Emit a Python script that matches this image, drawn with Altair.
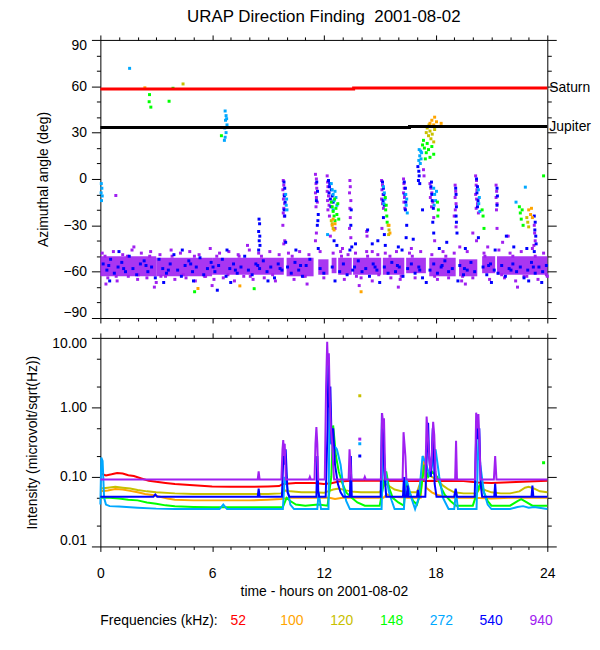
import altair as alt
import pandas as pd

TITLE = "URAP Direction Finding\u00a0 2001-08-02"
FREQS = ["52", "100", "120", "148", "272", "540", "940"]
COLORS = ["#FF0000", "#FFA500", "#C8C000", "#00FF00", "#00A8FF", "#0000FF", "#A020F0"]
LEGEND_TITLE = "Frequencies (kHz):"
X_TITLE = "time - hours on 2001-08-02"
Y_TOP_TITLE = "Azimuthal angle (deg)"
Y_BOT_TITLE = "Intensity (microvolt/sqrt(Hz))"
X_TICKS = list(range(0, 25))
Y_TOP_TICKS = list(range(-90, 91, 10))
Y_BOT_TICKS = [0.01, 0.02, 0.05, 0.1, 0.2, 0.5, 1, 2, 5, 10]

# ---------------- top panel: dense band core (segments between gaps)
BAND_T0 = [0.0, 3.0, 6.0, 10.0, 11.7, 12.42, 12.77, 13.57, 15.17, 16.42, 17.66, 19.26, 20.5, 21.3]
BAND_T1 = [3.0, 6.0, 9.85, 11.45, 12.25, 12.68, 13.5, 15.08, 16.32, 17.48, 19.08, 20.24, 21.2, 24.0]
BAND_LO = [-63, -63, -62, -63, -62, -61, -62, -62, -62, -61, -63, -63, -61, -62]
BAND_HI = [-50, -51, -51, -51, -52, -51, -51, -51, -51, -51, -51, -52, -50, -50]

PURPLE_SPECK = [(0.1,-48),(0.4,-64),(0.7,-47),(0.9,-66),(1.2,-49),(1.5,-63),(1.7,-46),(2.0,-65),(2.2,-48),(2.5,-64),
    (2.7,-47),(3.0,-67),(3.2,-49),(3.5,-63),(3.8,-46),(4.0,-65),(4.3,-48),(4.6,-64),(4.8,-47),(5.1,-66),(5.3,-49),
    (5.6,-63),(5.9,-45),(6.1,-65),(6.4,-48),(6.6,-64),(6.9,-47),(7.2,-66),(7.4,-49),(7.7,-63),(8.0,-46),(8.2,-65),
    (8.5,-48),(8.8,-64),(9.1,-47),(9.4,-66),(9.6,-49),(10.1,-48),(10.4,-65),(10.7,-47),(11.0,-63),(11.2,-49),(11.8,-47),
    (12.0,-64),(12.5,-48),(12.9,-47),(13.1,-65),(13.3,-49),(13.7,-48),(14.0,-64),(14.3,-47),(14.6,-66),(14.9,-49),
    (15.3,-48),(15.6,-64),(15.9,-47),(16.1,-65),(16.6,-48),(16.9,-64),(17.2,-47),(17.8,-49),(18.1,-65),(18.4,-47),
    (18.7,-64),(19.0,-48),(19.4,-66),(19.7,-47),(20.0,-64),(20.6,-48),(20.9,-65),(21.4,-46),(21.7,-64),(22.0,-48),
    (22.3,-66),(22.6,-47),(22.9,-63),(23.2,-45),(23.5,-65),(23.8,-48),(24.0,-63),(0.3,-68),(2.9,-70),(6.0,-69),
    (11.1,-68),(13.9,-69),(16.0,-70),(19.6,-68),(22.4,-70),(1.8,-44),(7.9,-43),(13.0,-45),(20.8,-44),
    (0.25,-50),(0.85,-63),(1.45,-50),(2.05,-62),(2.65,-50),(3.25,-63),(3.85,-50),(4.45,-62),(5.05,-50),(5.65,-63),
    (6.25,-50),(6.85,-62),(7.45,-50),(8.05,-63),(8.65,-50),(9.25,-62),(10.3,-50),(10.9,-63),(12.95,-50),(13.75,-63),
    (14.35,-50),(14.95,-62),(15.55,-50),(16.15,-63),(16.75,-50),(17.95,-63),(18.55,-50),(19.45,-63),(20.65,-50),
    (21.55,-62),(22.15,-50),(22.75,-63),(23.35,-50),(23.95,-62)]
PURPLE_BURST = [(9.82,-1),(9.85,-4),(9.8,-7),(9.87,-10),(9.83,-13),(9.9,-16),(9.85,-19),(9.82,-22),(9.88,-24),(9.8,-30),
    (9.9,-40),(9.85,-42),(11.55,3),(11.6,0),(11.58,-3),(11.62,-6),(11.55,-9),(11.6,-12),(11.65,-15),(11.58,-18),
    (11.6,-35),(11.55,-40),(12.18,2),(12.2,-2),(12.22,-5),(12.18,-8),(12.25,-11),(12.2,-14),(12.28,-17),(12.22,-20),
    (12.3,-24),(12.35,-37),(12.6,-32),(13.4,-1),(13.42,-5),(13.38,-9),(13.45,-14),(13.4,-19),(13.42,-25),(13.38,-32),
    (13.45,-38),(14.3,-34),(14.32,-37),(15.1,-1),(15.15,-4),(15.12,-7),(15.18,-10),(15.1,-13),(15.15,-16),(15.2,-19),
    (15.12,-32),(16.28,0),(16.3,-3),(16.32,-6),(16.28,-9),(16.33,-12),(16.3,-15),(16.35,-19),(17.35,6),(17.38,2),
    (17.7,-3),(17.75,-6),(17.8,-9),(17.72,-12),(17.85,-15),(17.78,-18),(17.9,-25),(17.95,-40),(19.05,-4),(19.08,-8),
    (19.05,-12),(19.1,-16),(19.06,-20),(19.0,-24),(19.1,-31),(20.15,2),(20.2,-1),(20.18,-4),(20.22,-7),(20.15,-10),
    (20.2,-13),(20.25,-16),(20.18,-19),(20.3,-22),(20.2,-40),(21.25,-4),(21.28,-8),(21.25,-12),(21.3,-16),(21.27,-20),
    (21.3,-32),(23.3,-30),(23.32,-35),(23.35,-40),(23.28,-43),(0.83,-10.7),(14.6,-47),(16.7,-45),(19.3,-44),
    (21.6,-41),(20.0,-35),(21.9,-37)]
BLUE_SPECK = [(0.15,-55),(0.35,-59),(0.55,-52),(0.75,-61),(0.95,-57),(1.15,-54),(1.35,-60),(1.55,-50),(1.75,-58),
    (1.95,-62),(2.15,-55),(2.35,-53),(2.55,-60),(2.75,-57),(2.95,-64),(3.15,-52),(3.35,-58),(3.55,-61),(3.75,-55),
    (3.95,-49),(4.15,-59),(4.35,-63),(4.55,-56),(4.75,-53),(4.95,-60),(5.15,-57),(5.35,-51),(5.55,-62),(5.75,-58),
    (5.95,-54),(6.15,-60),(6.35,-56),(6.55,-52),(6.75,-63),(6.95,-58),(7.15,-55),(7.35,-61),(7.55,-57),(7.75,-50),
    (7.95,-59),(8.15,-62),(8.35,-55),(8.55,-58),(8.75,-53),(8.95,-60),(9.15,-57),(9.35,-64),(9.55,-55),(9.75,-59),
    (10.05,-57),(10.25,-61),(10.45,-54),(10.65,-59),(10.85,-63),(11.05,-56),(11.25,-52),(11.8,-58),(12.0,-61),
    (12.45,-57),(12.85,-60),(13.05,-55),(13.25,-62),(13.65,-57),(13.85,-53),(14.05,-60),(14.25,-58),(14.45,-63),
    (14.65,-55),(14.85,-59),(15.25,-57),(15.45,-61),(15.65,-54),(15.85,-60),(16.05,-57),(16.25,-63),(16.5,-58),
    (16.7,-55),(16.9,-61),(17.1,-57),(17.3,-64),(17.7,-59),(17.9,-55),(18.1,-61),(18.3,-57),(18.5,-53),(18.7,-60),
    (18.9,-58),(19.3,-56),(19.5,-62),(19.7,-59),(19.9,-54),(20.1,-60),(20.55,-57),(20.75,-62),(20.95,-55),(21.15,-59),
    (21.35,-61),(21.55,-56),(21.75,-63),(21.95,-58),(22.15,-55),(22.35,-60),(22.55,-57),(22.75,-64),(22.95,-59),
    (23.15,-54),(23.35,-61),(23.55,-57),(23.75,-60),(23.95,-56),(0.5,-66),(3.4,-67),(5.0,-66),(7.0,-67),(9.0,-66),
    (12.6,-66),(15.0,-67),(17.5,-67),(19.2,-66),(21.0,-67),(23.0,-66),(23.7,-67),(1.0,-47),(4.4,-46),(6.8,-46),
    (10.5,-46),(13.4,-46),(16.2,-46),(18.2,-45),(21.2,-46),(22.2,-44),(23.3,-47),
    (0.45,-56),(1.25,-58),(2.45,-56),(3.65,-59),(4.85,-55),(6.05,-57),(7.25,-59),(8.45,-56),(9.65,-58),(10.75,-56),
    (13.55,-59),(14.75,-57),(15.95,-56),(17.15,-59),(18.35,-56),(19.55,-58),(20.85,-56),(22.05,-59),(23.25,-57)]
BLUE_BURST = [(8.52,-26),(8.55,-29),(8.5,-34),(8.56,-37),(8.53,-40),(8.57,-43),(8.5,-46),(9.86,-2),(9.9,-6),(9.88,-11),
    (9.92,-15),(9.87,-20),(9.9,-24),(9.95,-41),(11.62,-2),(11.66,-8),(11.6,-14),(11.7,-23),(11.68,-27),(11.65,-30),
    (11.7,-45),(12.25,-1),(12.3,-5),(12.28,-9),(12.35,-13),(12.32,-3),(12.4,-7),(12.45,-11),(12.5,-15),(12.38,-18),
    (12.55,-40),(12.7,-43),(13.47,-20),(13.45,-30),(13.5,-44),(14.35,-33),(14.6,-42),(15.15,-2),(15.2,-6),(15.22,-10),
    (15.18,-14),(15.25,-17),(15.2,-25),(15.25,-36),(15.3,-43),(16.32,-2),(16.38,-6),(16.35,-10),(16.4,-15),(16.38,-20),
    (16.45,-30),(16.42,-38),(17.05,8),(17.1,5),(17.12,2),(17.08,-1),(17.15,-3),(17.3,-20),(17.78,-2),(17.75,-5),
    (17.8,-10),(17.82,-14),(17.88,-19),(17.85,-28),(17.9,-35),(19.08,-6),(19.1,-10),(19.12,-18),(19.1,-24),(19.12,-28),
    (19.15,-35),(20.2,0),(20.25,-5),(20.22,-9),(20.28,-14),(20.25,-18),(20.3,-38),(21.3,-6),(21.32,-11),(21.3,-17),
    (23.3,-24),(23.35,-28),(23.33,-33),(23.38,-37),(23.4,-42),(6.28,-72),(13.7,-42),(14.9,-40),(16.0,-44),(16.8,-39),
    (18.6,-41),(19.6,-45),(21.8,-37),(22.9,-45)]
CYAN_PTS = [(0.05,-3),(0.08,-6),(0.04,-9),(0.1,-11),(0.06,-14),(1.57,71.6),(6.7,44),(6.75,41),(6.78,39),(6.72,38),
    (6.8,35),(6.68,33),(6.75,30),(6.7,27),(6.66,25),(9.95,-10),(10.0,-13),(9.98,-17),(10.02,-20),(12.4,-3),(12.45,-7),
    (12.5,-10),(12.55,-14),(12.6,-8),(12.65,-12),(12.7,-17),(12.5,-20),(12.2,-36),(15.2,-5),(15.25,-9),(15.28,-13),
    (15.22,-16),(16.4,-10),(16.45,-13),(16.42,-17),(16.48,-22),(17.1,12),(17.15,15),(17.18,10),(17.2,18),(17.22,13),
    (17.25,17),(17.12,19),(17.9,-6),(17.95,-10),(18.0,-14),(17.92,-17),(18.05,-8),(20.3,-7),(20.35,-12),(20.32,-16),
    (20.38,-21),(22.82,-5.3),(22.32,-15)]
GREEN_PTS = [(2.64,54.6),(2.62,50),(2.71,46.5),(3.9,58.7),(3.69,50.3),(6.5,28),(5.06,-73),(8.26,-71),(12.4,-15),
    (12.45,-18),(12.5,-21),(12.55,-24),(12.6,-27),(12.65,-19),(12.7,-23),(12.75,-16),(12.8,-26),(12.58,-13),(15.3,-12),
    (15.35,-17),(15.32,-20),(15.38,-24),(15.4,-28),(17.3,22),(17.35,25),(17.4,20),(17.5,17),(17.55,23),(17.62,19),
    (17.7,14),(17.45,13),(17.8,21),(17.9,16),(18.1,-15),(18.15,-20),(18.12,-24),(20.5,-20),(20.55,-24),(20.6,-32),
    (22.5,-18),(22.55,-22),(22.6,-26),(22.65,-20),(22.7,-30),(23.8,2)]
YELLOW_PTS = [(4.44,61.5),(12.45,-29),(12.5,-32),(12.4,-27),(15.45,-30),(15.5,-33),(15.48,-36),(17.5,30),(17.55,33),
    (17.62,28),(17.7,31),(17.75,26),(17.82,29),(17.9,24),(17.65,35),(17.95,32),(22.95,-28),(23.0,-31),(22.9,-25)]
ORANGE_PTS = [(2.39,59),(5.24,-70.9),(7.49,-69.2),(14.0,-73),(12.5,-26),(12.45,-30),(12.55,-33),(12.6,-29),(15.5,-30),
    (15.55,-35),(17.7,36),(17.8,38),(17.9,35),(17.95,40),(18.05,37),(18.2,34),(18.3,36),(23.0,-20),(23.1,-23),
    (23.15,-19),(23.2,-25)]

PLANETS = ["Saturn", "Jupiter"]
PLANET_COLORS = ["#FF0000", "#000000"]
SATURN_T = [0.0, 13.6, 24.0]
SATURN_A = [58.2, 58.9, 58.9]
JUPITER_T = [0.0, 16.6, 24.0]
JUPITER_A = [33.3, 33.9, 33.9]

# ---------------- bottom panel: intensity per frequency (t hours, value)
RED_LINE = [(0.0,0.112),(0.3,0.105),(0.6,0.109),(0.9,0.114),(1.2,0.112),(1.5,0.106),(1.8,0.103),(2.2,0.095),(2.6,0.088),
    (3.0,0.085),(3.5,0.082),(4.0,0.079),(5.0,0.076),(6.0,0.073),(7.0,0.072),(8.0,0.072),(9.0,0.073),(9.6,0.074),
    (9.8,0.079),(10.5,0.082),(11.5,0.082),(12.0,0.079),(12.4,0.081),(12.8,0.086),(13.5,0.088),(15.0,0.088),
    (16.5,0.087),(18.0,0.088),(19.5,0.087),(20.3,0.083),(21.0,0.082),(22.0,0.084),(23.0,0.086),(24.0,0.088)]
ORANGE_LINE = [(0.0,0.062),(0.4,0.064),(0.8,0.067),(1.2,0.066),(1.6,0.063),(2.0,0.06),(2.4,0.057),(2.8,0.055),
    (3.2,0.052),(3.6,0.049),(4.0,0.047),(5.0,0.046),(6.0,0.046),(7.0,0.046),(8.0,0.046),(9.0,0.047),(9.7,0.048),
    (10.2,0.05),(11.0,0.05),(12.0,0.05),(12.3,0.05),(12.6,0.048),(13.0,0.05),(14.0,0.05),(15.2,0.05),(15.4,0.056),
    (15.7,0.052),(16.5,0.05),(17.2,0.05),(17.35,0.2),(17.5,0.07),(17.8,0.06),(18.1,0.055),(18.5,0.052),(19.0,0.05),
    (20.0,0.05),(21.0,0.049),(22.0,0.05),(23.0,0.05),(24.0,0.05)]
YELLOW_LINE = [(0.0,0.068),(0.4,0.07),(0.8,0.072),(1.2,0.07),(1.6,0.068),(2.0,0.065),(2.5,0.062),(3.0,0.06),(4.0,0.058),
    (5.0,0.057),(6.0,0.057),(7.0,0.057),(8.0,0.057),(9.0,0.057),(9.7,0.058),(9.9,0.064),(10.2,0.062),(10.8,0.06),
    (11.5,0.06),(12.0,0.059),(12.5,0.066),(12.8,0.068),(13.2,0.064),(13.6,0.061),(14.0,0.06),(15.0,0.06),(15.3,0.08),
    (15.5,0.074),(15.8,0.066),(16.2,0.062),(16.6,0.06),(17.0,0.06),(17.4,0.12),(17.8,0.1),(18.1,0.09),(18.4,0.075),
    (18.7,0.066),(19.0,0.06),(19.5,0.058),(20.2,0.058),(20.4,0.07),(20.7,0.064),(21.0,0.06),(21.5,0.058),(22.0,0.058),
    (22.5,0.062),(22.8,0.07),(23.0,0.072),(23.3,0.068),(23.6,0.062),(24.0,0.06)]
GREEN_LINE = [(0.0,0.05),(0.5,0.05),(1.0,0.049),(1.5,0.047),(2.0,0.046),(2.5,0.043),(3.0,0.041),(3.5,0.039),(4.0,0.038),
    (5.0,0.037),(6.0,0.0365),(7.0,0.0365),(8.0,0.0365),(9.0,0.0365),(9.8,0.037),(10.0,0.05),(10.2,0.045),(10.5,0.04),
    (11.0,0.0385),(11.7,0.04),(12.2,0.0385),(12.4,0.1),(12.5,0.55),(12.65,0.2),(12.8,0.12),(13.0,0.08),(13.2,0.06),
    (13.5,0.05),(13.8,0.043),(14.2,0.0386),(15.0,0.0386),(15.25,0.09),(15.35,0.12),(15.5,0.07),(15.7,0.05),
    (16.0,0.043),(16.3,0.0386),(16.4,0.085),(16.6,0.06),(16.8,0.045),(17.0,0.04),(17.2,0.06),(17.4,0.15),(17.6,0.1),
    (17.8,0.12),(18.1,0.1),(18.3,0.07),(18.5,0.055),(18.8,0.045),(19.1,0.0386),(20.0,0.0386),(20.35,0.075),
    (20.45,0.08),(20.6,0.06),(20.8,0.045),(21.0,0.0386),(22.0,0.0386),(22.4,0.045),(22.6,0.048),(22.9,0.043),
    (23.2,0.0386),(24.0,0.0386)]
CYAN_LINE = [(0.0,0.04),(0.05,0.19),(0.12,0.17),(0.2,0.05),(0.3,0.04),(0.5,0.038),(1.0,0.0375),(2.0,0.036),(3.0,0.035),
    (4.0,0.0345),(6.4,0.0345),(6.6,0.04),(6.8,0.0345),(7.5,0.0345),(9.0,0.0345),(9.8,0.0345),(9.9,0.1),(10.0,0.08),
    (10.2,0.04),(10.4,0.0345),(11.0,0.0345),(11.65,0.0345),(11.72,0.06),(11.85,0.0345),(12.1,0.0345),(12.25,0.0345),
    (12.32,1.6),(12.4,0.3),(12.55,0.28),(12.7,0.25),(12.9,0.15),(13.05,0.07),(13.2,0.045),(13.4,0.0345),(14.0,0.0345),
    (15.1,0.0345),(15.2,0.3),(15.3,0.12),(15.5,0.06),(15.65,0.045),(15.8,0.0345),(16.3,0.0345),(16.4,0.1),(16.5,0.08),
    (16.7,0.05),(16.9,0.0345),(17.1,0.05),(17.3,0.2),(17.5,0.15),(17.7,0.1),(17.9,0.2),(18.0,0.25),(18.2,0.1),
    (18.4,0.05),(18.7,0.0345),(19.0,0.0345),(19.1,0.06),(19.2,0.0345),(20.2,0.0345),(20.3,0.35),(20.4,0.15),
    (20.6,0.06),(20.8,0.04),(21.0,0.0345),(22.0,0.0345),(22.4,0.037),(22.7,0.038),(23.0,0.036),(23.3,0.037),
    (24.0,0.0345)]
BLUE_LINE = [(0.0,0.052),(2.85,0.052),(2.95,0.056),(3.05,0.052),(8.45,0.052),(8.5,0.068),(8.55,0.052),(9.75,0.052),
    (9.85,0.3),(9.9,0.15),(9.95,0.25),(10.05,0.06),(10.15,0.052),(11.6,0.052),(11.65,0.2),(11.7,0.062),(11.75,0.052),
    (12.1,0.052),(12.2,0.5),(12.25,5.2),(12.3,1.0),(12.35,2.0),(12.42,0.3),(12.5,0.5),(12.6,0.15),(12.75,0.08),
    (12.9,0.06),(13.05,0.052),(13.4,0.052),(13.45,0.2),(13.5,0.052),(15.05,0.052),(15.12,0.83),(15.18,0.4),
    (15.25,0.12),(15.35,0.052),(16.25,0.052),(16.3,0.1),(16.35,0.052),(16.45,0.052),(16.5,0.075),(16.55,0.052),
    (17.0,0.052),(17.05,0.065),(17.1,0.052),(17.45,0.052),(17.55,0.3),(17.6,0.6),(17.65,0.2),(17.75,0.1),(17.85,0.5),
    (17.9,0.3),(17.95,0.08),(18.05,0.052),(19.0,0.052),(19.08,0.068),(19.15,0.052),(20.1,0.052),(20.2,0.63),
    (20.28,0.35),(20.35,0.5),(20.42,0.08),(20.5,0.052),(21.15,0.052),(21.2,0.08),(21.25,0.052),(23.15,0.052),
    (23.2,0.075),(23.25,0.052),(24.0,0.052)]
PURPLE_LINE = [(0.0,0.092),(8.45,0.092),(8.5,0.12),(8.55,0.092),(9.72,0.092),(9.78,0.25),(9.82,0.34),(9.86,0.2),
    (9.9,0.3),(9.96,0.092),(11.2,0.092),(11.25,0.1),(11.3,0.092),(11.5,0.092),(11.55,0.3),(11.6,0.52),(11.65,0.3),
    (11.7,0.092),(12.05,0.092),(12.12,2.0),(12.18,8.8),(12.22,4.0),(12.27,6.0),(12.32,1.2),(12.38,0.5),(12.45,0.3),
    (12.5,0.15),(12.55,0.092),(13.33,0.092),(13.38,0.25),(13.43,0.15),(13.48,0.092),(14.15,0.092),(14.2,0.1),
    (14.25,0.092),(15.08,0.092),(15.13,0.83),(15.18,0.5),(15.23,0.7),(15.3,0.092),(16.23,0.092),(16.28,0.44),
    (16.33,0.3),(16.38,0.2),(16.43,0.092),(17.45,0.092),(17.52,0.74),(17.58,0.4),(17.65,0.2),(17.72,0.12),(17.8,0.2),
    (17.87,0.62),(17.93,0.4),(18.0,0.12),(18.05,0.092),(19.05,0.092),(19.1,0.33),(19.15,0.092),(20.12,0.092),
    (20.18,0.84),(20.24,0.5),(20.3,0.8),(20.36,0.3),(20.42,0.092),(21.13,0.092),(21.2,0.2),(21.27,0.092),(24.0,0.092)]
# isolated samples in the bottom panel
BOTTOM_PTS = [("120",13.93,1.47),("940",13.93,0.35),("272",13.93,0.3),("540",13.93,0.2),("148",23.8,0.16)]

FONT = "Liberation Sans"

# ---------------- data frames
band_df = pd.DataFrame({"t0": BAND_T0, "t1": BAND_T1, "lo": BAND_LO, "hi": BAND_HI})
top_rows = []
for f, pts in [("940", PURPLE_SPECK + PURPLE_BURST), ("540", BLUE_SPECK + BLUE_BURST), ("272", CYAN_PTS),
               ("148", GREEN_PTS), ("120", YELLOW_PTS), ("100", ORANGE_PTS)]:
    top_rows += [{"f": f, "t": t, "a": a} for t, a in pts]
top_df = pd.DataFrame(top_rows)
planet_df = pd.DataFrame(
    [{"name": "Saturn", "t": t, "a": a} for t, a in zip(SATURN_T, SATURN_A)]
    + [{"name": "Jupiter", "t": t, "a": a} for t, a in zip(JUPITER_T, JUPITER_A)])
planet_lab_df = pd.DataFrame({"name": PLANETS, "t": [SATURN_T[-1], JUPITER_T[-1]], "a": [SATURN_A[-1], JUPITER_A[-1]]})

line_rows = []
for f, series in zip(FREQS, [RED_LINE, ORANGE_LINE, YELLOW_LINE, GREEN_LINE, CYAN_LINE, BLUE_LINE, PURPLE_LINE]):
    line_rows += [{"f": f, "t": t, "v": v} for t, v in series]
line_df = pd.DataFrame(line_rows)
bpts_df = pd.DataFrame([{"f": f, "t": t, "v": v} for f, t, v in BOTTOM_PTS])
legend_df = pd.DataFrame({"lab": FREQS})
legend_title_df = pd.DataFrame({"txt": [LEGEND_TITLE]})

# ---------------- scales and axes
xs = alt.Scale(domain=[0, 24], nice=False, zero=False)
ys_top = alt.Scale(domain=[-90, 90], nice=False, zero=False)
ys_bot = alt.Scale(type="log", domain=[0.01, 10], nice=False)
cscale = alt.Scale(domain=FREQS, range=COLORS)

AX = dict(domain=True, domainColor="black", domainWidth=1, tickColor="black", tickWidth=1,
          grid=False, labelOverlap=False)
MAJ_X = "datum.value % 6 === 0"
MAJ_YT = "datum.value % 30 === 0"
MAJ_YB = "abs(log(datum.value) / LN10 - round(log(datum.value) / LN10)) < 0.01"


def x_axis(orient, labels=False, title=None):
    kw = dict(orient=orient, values=X_TICKS, labels=labels, title=title, labelFlush=False,
              tickSize={"condition": {"test": MAJ_X, "value": 5}, "value": 3}, **AX)
    if labels:
        kw.update(labelExpr=f"{MAJ_X} ? datum.label : ''", labelPadding=15, titlePadding=4)
    return alt.Axis(**kw)


def y_axis(orient, ticks, major, size_major, labels=False, title=None, expr=None):
    kw = dict(orient=orient, values=ticks, labels=labels, title=title,
              tickSize={"condition": {"test": major, "value": size_major}, "value": 4}, **AX)
    if labels:
        kw.update(labelExpr=expr, labelFlush=True, labelFlushOffset=1, labelPadding=5, titlePadding=12)
    return alt.Axis(**kw)


# ---------------- top panel
band = alt.Chart(band_df).mark_rect(color=COLORS[6], opacity=0.9).encode(
    x=alt.X("t0:Q", scale=xs, axis=x_axis("bottom")),
    x2="t1:Q",
    y=alt.Y("lo:Q", scale=ys_top, axis=y_axis("left", Y_TOP_TICKS, MAJ_YT, 9, True, Y_TOP_TITLE,
                                               f"{MAJ_YT} ? datum.label : ''")),
    y2="hi:Q",
)
pts = alt.Chart(top_df).mark_square(size=9, opacity=1).encode(
    x=alt.X("t:Q", scale=xs, axis=x_axis("top")),
    y=alt.Y("a:Q", scale=ys_top, axis=y_axis("right", Y_TOP_TICKS, MAJ_YT, 9)),
    color=alt.Color("f:N", scale=cscale, legend=None),
)
planets = alt.Chart(planet_df).mark_line(strokeWidth=3, interpolate="step-after").encode(
    x=alt.X("t:Q", scale=xs, axis=None),
    y=alt.Y("a:Q", scale=ys_top, axis=None),
    color=alt.Color("name:N", scale=alt.Scale(domain=PLANETS, range=PLANET_COLORS), legend=None),
)
planet_txt = alt.Chart(planet_lab_df).mark_text(align="left", baseline="middle", dx=2, fontSize=14,
                                                font=FONT, color="black").encode(
    x=alt.X("t:Q", scale=xs, axis=None),
    y=alt.Y("a:Q", scale=ys_top, axis=None),
    text="name:N",
)
top = (alt.layer(band, pts, planets, planet_txt)
       .resolve_axis(x="independent", y="independent")
       .resolve_scale(color="independent")
       .properties(width=450, height=280))

# ---------------- bottom panel
lines = alt.Chart(line_df).mark_line(strokeWidth=2).encode(
    x=alt.X("t:Q", scale=xs, axis=x_axis("bottom", True, X_TITLE)),
    y=alt.Y("v:Q", scale=ys_bot, axis=y_axis("left", Y_BOT_TICKS, MAJ_YB, 9, True, Y_BOT_TITLE,
                                             f"{MAJ_YB} ? format(datum.value, '.2f') : ''")),
    color=alt.Color("f:N", scale=cscale, legend=None),
)
bpts = alt.Chart(bpts_df).mark_square(size=9, opacity=1).encode(
    x=alt.X("t:Q", scale=xs, axis=x_axis("top")),
    y=alt.Y("v:Q", scale=ys_bot, axis=y_axis("right", Y_BOT_TICKS, MAJ_YB, 9)),
    color=alt.Color("f:N", scale=cscale, legend=None),
)
bottom = (alt.layer(lines, bpts)
          .resolve_axis(x="independent", y="independent")
          .properties(width=450, height=210))

# ---------------- legend row
leg_head = alt.Chart(legend_title_df).mark_text(align="left", baseline="middle", fontSize=14, font=FONT,
                                                color="black").encode(
    x=alt.value(0), y=alt.value(55), text="txt:N")
leg_labels = alt.Chart(legend_df).mark_text(align="left", baseline="middle", fontSize=14, font=FONT).encode(
    x=alt.X("lab:N", scale=alt.Scale(domain=FREQS, range=[131, 432], padding=0), axis=None),
    y=alt.value(55),
    text="lab:N",
    color=alt.Color("lab:N", scale=cscale, legend=None),
)
legend = alt.layer(leg_head, leg_labels).properties(width=450, height=60)

chart = (alt.vconcat(top, bottom, legend, spacing=20, bounds="flush")
         .properties(
             title=alt.TitleParams(TITLE, fontSize=17, font=FONT, fontWeight="normal", anchor="middle",
                                   frame="group", offset=9, color="black"),
             padding={"left": 17, "top": -3, "right": 0, "bottom": 2})
         .configure_view(stroke=None)
         .configure_axis(labelFont=FONT, labelFontSize=14, labelColor="black", titleFont=FONT,
                         titleFontSize=14, titleFontWeight="normal", titleColor="black"))

chart.save("out.html", embed_options={"renderer": "svg", "actions": False})
